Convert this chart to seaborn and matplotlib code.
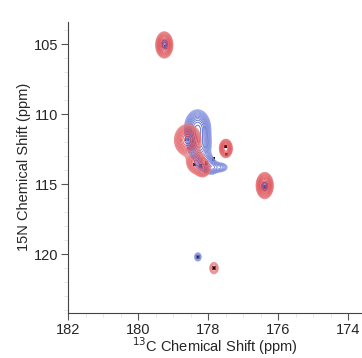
import numpy as np
import pandas as pd
import matplotlib
matplotlib.use("Agg")
import matplotlib.pyplot as plt
from matplotlib.ticker import MultipleLocator
import seaborn as sns

# peak positions (13C, 15N) and widths in ppm
red_c = [179.25, 178.58, 178.35, 178.15, 177.49, 176.38, 177.83]
red_n = [105.05, 111.85, 113.4, 113.9, 112.45, 115.1, 121.0]
red_wc = [0.11, 0.17, 0.13, 0.11, 0.09, 0.11, 0.09]
red_wn = [0.42, 0.5, 0.4, 0.3, 0.32, 0.42, 0.3]
red_amp = [1.0, 1.0, 0.6, 0.5, 0.7, 1.0, 0.2]

blue_c = [179.24, 178.3, 178.25, 178.1, 177.9, 177.65, 176.38, 178.29]
blue_n = [105.0, 111.0, 112.2, 113.4, 113.8, 113.8, 115.15, 120.2]
blue_wc = [0.05, 0.17, 0.16, 0.13, 0.11, 0.13, 0.05, 0.07]
blue_wn = [0.2, 0.6, 0.55, 0.35, 0.28, 0.2, 0.2, 0.22]
blue_amp = [0.35, 0.9, 0.7, 0.5, 0.35, 0.25, 0.35, 0.2]

# picked peak centres (black markers)
pick_c = [179.22, 178.6, 178.38, 178.22, 178.05, 177.85, 177.5, 177.48, 176.38, 178.29, 177.83]
pick_n = [105.2, 111.8, 113.6, 113.7, 113.5, 113.2, 112.3, 112.9, 115.2, 120.2, 121.0]

sns.set_theme(style="ticks")
plt.rcParams["font.family"] = ["Liberation Sans", "DejaVu Sans"]

fig = plt.figure(figsize=(3.62, 3.58), dpi=100)
ax = fig.add_axes([0.188, 0.126, 0.812, 0.813])

cc = np.linspace(173.5, 182.5, 500)
nn = np.linspace(102, 125, 600)
C, N = np.meshgrid(cc, nn)


def spectrum(pc, pn, wc, wn, amp):
    z = np.zeros_like(C)
    for c0, n0, sc, sn, a in zip(pc, pn, wc, wn, amp):
        z += a * np.exp(-0.5 * (((C - c0) / sc) ** 2 + ((N - n0) / sn) ** 2))
    return z


zb = spectrum(blue_c, blue_n, blue_wc, blue_wn, blue_amp)
zr = spectrum(red_c, red_n, red_wc, red_wn, red_amp)

levels = 0.08 * 1.22 ** np.arange(16)
ax.contour(C, N, zb, levels=levels,
           colors=sns.blend_palette(["#8f9de6", "#2a3fb8"], len(levels)),
           linewidths=0.7, alpha=0.8)
ax.contour(C, N, zr, levels=levels,
           colors=sns.blend_palette(["#e88080", "#d01020"], len(levels)),
           linewidths=0.7, alpha=0.75)

picks = pd.DataFrame({"c": pick_c, "n": pick_n})
sns.scatterplot(data=picks, x="c", y="n", marker="s", s=6, color="black",
                edgecolor="none", ax=ax)

ax.set_xlim(182, 173.6)
ax.set_ylim(124.2, 103.4)
ax.xaxis.set_major_locator(MultipleLocator(2))
ax.xaxis.set_minor_locator(MultipleLocator(0.5))
ax.yaxis.set_major_locator(MultipleLocator(5))
ax.yaxis.set_minor_locator(MultipleLocator(1))
ax.tick_params(which="major", length=5, width=0.8, labelsize=10.5, pad=2, color="#555555")
ax.tick_params(which="minor", length=3, width=0.5, color="#dddddd")
for s in ["top", "right"]:
    ax.spines[s].set_visible(False)
for s in ["left", "bottom"]:
    ax.spines[s].set_color("#444444")
    ax.spines[s].set_linewidth(0.8)

ax.set_xlabel("$^{13}$C Chemical Shift (ppm)", fontsize=10.5, labelpad=-1)
ax.set_ylabel("15N Chemical Shift (ppm)", fontsize=10.5, labelpad=2)

fig.savefig("out.png", dpi=100)
